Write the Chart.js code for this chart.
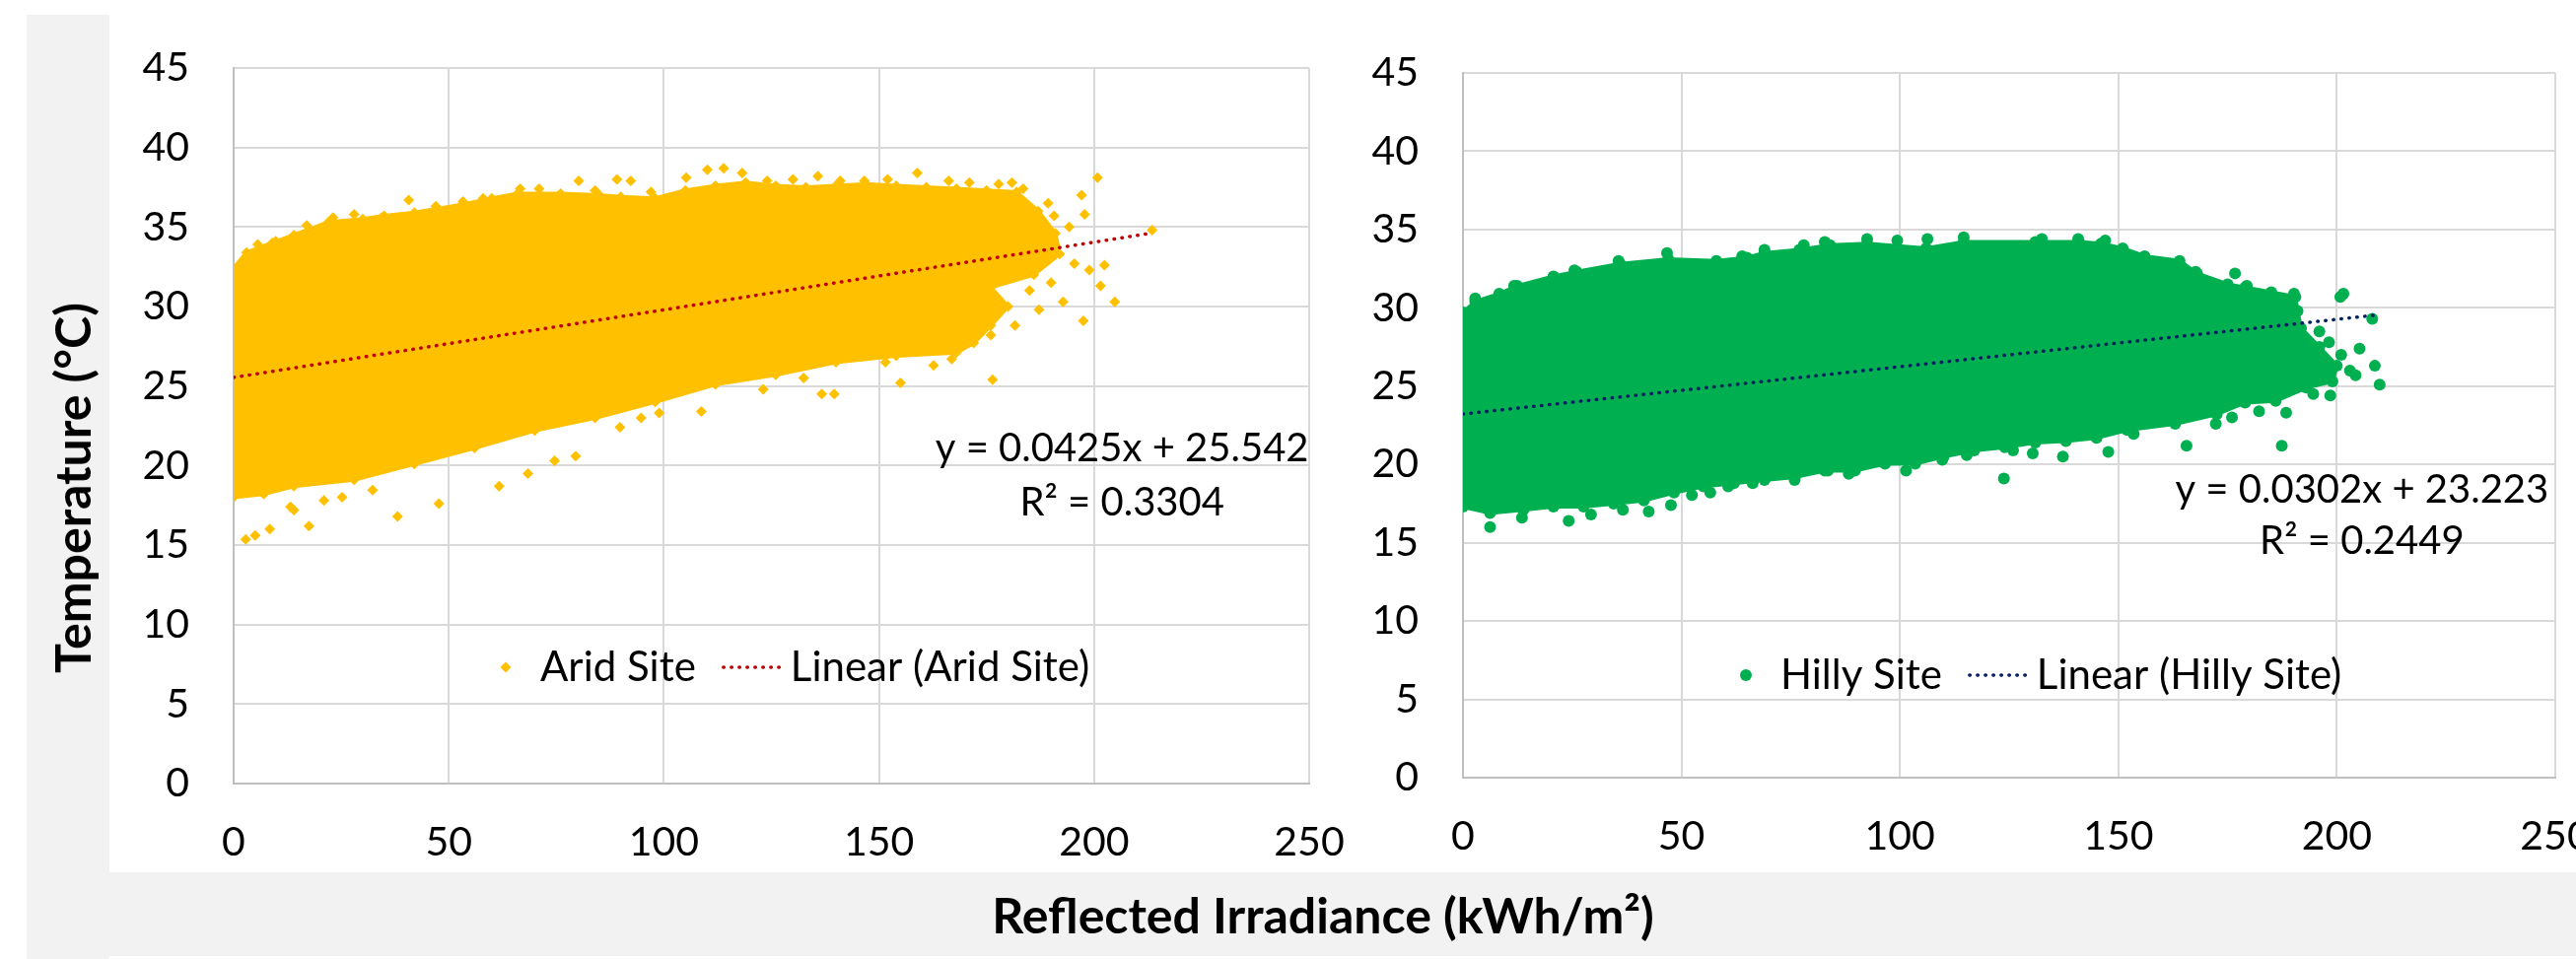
<!DOCTYPE html>
<html>
<head>
<meta charset="utf-8">
<script src="https://cdn.jsdelivr.net/npm/chart.js@4.4.1/dist/chart.umd.min.js"></script>
<style>
  html, body { margin: 0; overflow: hidden; }
  body { width: 2613px; height: 973px; position: relative; background: #fff; font-family: Lato, sans-serif; }
  .band { position: absolute; background: #f2f2f2; }
  canvas { position: absolute; }
  .ttl { position: absolute; font-weight: bold; font-size: 50px; line-height: 1; color: #000; white-space: nowrap; }
</style>
</head>
<body>
<div class="band" style="left:27px;top:15px;width:84px;height:958px"></div>
<div class="band" style="left:111px;top:885px;width:2502px;height:85px"></div>
<canvas id="arid" width="1340" height="870" style="left:27px;top:15px"></canvas>
<canvas id="hilly" width="1300" height="870" style="left:1367px;top:15px"></canvas>
<div class="ttl" style="left:73px;top:495px;transform:translate(-50%,-50%) rotate(-90deg)">Temperature (°C)</div>
<div class="ttl" style="left:1342px;top:928px;transform:translate(-50%,-50%)">Reflected Irradiance (kWh/m²)</div>

<script>
// axis ticks
const xTicks = [0, 50, 100, 150, 200, 250];
const yTicks = [0, 5, 10, 15, 20, 25, 30, 35, 40, 45];

// Arid site: outline of the dense cloud (top edge left->right, bottom edge right->left)
const aridTopX = [0, 3, 9, 14, 22, 30, 35, 42, 53, 60, 66, 76, 85, 90, 98, 105, 112, 119, 126, 133, 140, 147, 154, 161, 168, 175, 182, 187, 191, 192, 186, 176, 180, 176, 172];
const aridTopY = [32.4, 33.4, 34.0, 34.5, 35.3, 35.5, 35.7, 35.9, 36.4, 36.8, 37.1, 37.1, 37.0, 36.9, 36.8, 37.3, 37.6, 37.8, 37.6, 37.5, 37.6, 37.7, 37.6, 37.5, 37.4, 37.3, 37.2, 36.0, 34.6, 33.3, 32.0, 31.2, 30.0, 28.8, 27.7];
const aridLowX = [168, 154, 140, 126, 112, 98, 84, 70, 56, 42, 28, 14, 7, 0];
const aridLowY = [27.1, 26.9, 26.5, 25.7, 25.1, 24.0, 23.0, 22.2, 21.1, 20.1, 19.1, 18.7, 18.2, 18.0];
// Arid site: loose points around the cloud
const aridDotX = [5.6, 9.8, 23.1, 34.4, 40.7, 53.3, 66.6, 75.7, 80.2, 89.1, 92.3, 103.8, 105.2, 110.1, 113.9, 118.2, 135.8, 146.6, 158.9, 166.2, 177.8, 180.9, 183.5, 189.3, 190.7,
  17, 28, 47, 58, 71, 84, 97, 124, 130, 141, 152, 171,
  194.2, 197.1, 197.8, 200.8, 198.9, 202.4, 195.4, 201.5, 204.8, 192.8, 197.5, 187.2, 181.6, 176, 213.5, 190, 185,
  176.4, 170.4, 166.9, 162.7, 159.2, 155.0, 151.5, 139.6, 136.7, 132.5, 123.1, 108.7, 98.9, 94.7, 89.8, 79.5, 74.6, 68.4, 61.7, 47.7, 38.1, 32.3, 25.2, 21.0, 17.5, 14.0, 13.2, 8.4, 2.8, 5];
const aridDotY = [33.9, 34.1, 35.6, 35.6, 36.7, 36.6, 37.4, 36.6, 37.9, 38.0, 37.9, 36.9, 38.1, 38.6, 38.7, 38.4, 38.2, 37.9, 38.4, 37.9, 37.7, 37.8, 37.4, 36.5, 35.7,
  35.1, 35.8, 36.3, 36.8, 37.4, 37.3, 37.2, 37.9, 38.0, 37.9, 38.0, 37.8,
  35.0, 37.0, 35.8, 38.1, 32.3, 32.6, 32.7, 31.3, 30.3, 30.3, 29.1, 29.8, 28.8, 28.2, 34.8, 31.5, 31.0,
  25.4, 28.2, 26.7, 26.3, 27.5, 25.2, 26.5, 24.5, 24.5, 25.5, 24.8, 23.4, 23.3, 23.0, 22.4, 20.6, 20.3, 19.5, 18.7, 17.6, 16.8, 18.45, 18.0, 17.8, 16.2, 17.2, 17.4, 16.0, 15.35, 15.6];
const aridTrendX = [0, 213.5];
const aridTrendY = [25.54, 34.62];
const aridEquation = ['y = 0.0425x + 25.542', 'R² = 0.3304'];

// Hilly site
const hillyTopX = [0, 2.8, 8.3, 12.4, 20.7, 26, 36, 47, 58, 65, 69, 77, 84, 92.5, 106, 114.6, 131, 141, 146, 151, 156, 164, 168, 175, 179, 185, 190.5, 191, 191.8, 196, 200, 199];
const hillyTopY = [29.7, 30.4, 30.9, 31.4, 32.0, 32.3, 32.8, 33.1, 33.0, 33.2, 33.5, 33.7, 34.0, 34.1, 33.8, 34.2, 34.2, 34.2, 34.1, 33.8, 33.3, 33.0, 32.2, 31.5, 31.3, 31.0, 30.7, 29.8, 28.7, 27.5, 26.3, 25.3];
const hillyLowX = [193, 186, 179, 172.5, 163, 152, 145, 138, 131, 124, 117, 110, 103.5, 96.6, 89.7, 82.8, 76, 69, 62, 55, 48.3, 41.4, 34.5, 27.6, 20.7, 13.8, 6.2, 0];
const hillyLowY = [24.9, 24.05, 23.95, 23.2, 22.6, 22.2, 21.7, 21.5, 21.4, 21.1, 20.9, 20.5, 20.05, 20.05, 19.6, 19.6, 19.2, 19.0, 18.8, 18.6, 18.2, 17.7, 17.5, 17.3, 17.3, 17.1, 16.9, 17.3];
const hillyDotX = [2.8, 11.7, 25.5, 35.6, 46.7, 63.9, 69, 78, 82.8, 92.5, 99.4, 106.3, 114.6, 132.5, 140.8, 147, 167.7, 176.7, 179.4, 190.2,
  200.8, 201.5, 208.1, 208.7, 209.8, 205.2, 204.3, 198.2, 198.5, 194.6, 203, 196, 201,
  187.4, 188.4, 182.2, 176, 172.3, 165.6, 153.5, 147.7, 137.3, 130.4, 125.9, 123.8, 115.3, 109.7, 101.4, 88.3, 83.5, 75.9, 66.3, 60.7, 56.6, 52.4, 47.6, 42.5, 36.6, 29.3, 24.2, 13.5, 6.2];
const hillyDotY = [30.6, 31.4, 32.4, 33.0, 33.5, 33.3, 33.7, 34.0, 34.2, 34.4, 34.3, 34.4, 34.5, 34.4, 34.4, 34.3, 32.3, 32.2, 31.4, 30.9,
  30.7, 30.9, 29.3, 26.3, 25.1, 27.4, 25.7, 27.8, 24.4, 24.5, 26.0, 28.5, 27.0,
  21.2, 23.3, 23.4, 23.0, 22.6, 21.2, 21.95, 20.8, 20.5, 20.7, 20.9, 19.1, 20.6, 20.3, 19.6, 19.4, 19.6, 19.0, 18.8, 18.6, 18.2, 18.05, 17.4, 17.0, 17.1, 16.8, 16.4, 16.6, 16.0];
const hillyTrendX = [0, 208.4];
const hillyTrendY = [23.22, 29.52];
const hillyEquation = ['y = 0.0302x + 23.223', 'R² = 0.2449'];

function pts(xs, ys) {
  return xs.map((x, i) => ({ x: x, y: ys[i] }));
}

// legend + trendline equation drawn inside the plot area, like the spreadsheet original
const siteNotes = {
  id: 'siteNotes',
  afterDraw(chart, args, o) {
    const ctx = chart.ctx, a = chart.chartArea;
    const trend = chart.data.datasets[0], dots = chart.data.datasets[1];
    let x = a.left + o.legendX * a.width;
    const y = a.top + o.legendY * a.height;
    ctx.save();
    ctx.font = o.legendFont;
    ctx.textBaseline = 'middle';
    ctx.fillStyle = dots.backgroundColor;
    Chart.helpers.drawPoint(ctx, { pointStyle: dots.pointStyle, radius: dots.pointRadius, borderWidth: 0, rotation: 0 }, x, y);
    x += 35;
    ctx.fillStyle = '#000';
    ctx.textAlign = 'left';
    ctx.fillText(dots.label, x, y);
    x += ctx.measureText(dots.label).width + 28;
    ctx.beginPath();
    ctx.strokeStyle = trend.borderColor;
    ctx.lineWidth = trend.borderWidth;
    ctx.lineCap = 'round';
    ctx.setLineDash(trend.borderDash);
    ctx.moveTo(x, y);
    ctx.lineTo(x + 58, y);
    ctx.stroke();
    ctx.setLineDash([]);
    x += 68;
    ctx.fillText(trend.label, x, y);

    // equation
    ctx.font = o.eqFont;
    ctx.textAlign = 'center';
    const ex = a.left + o.eqX * a.width;
    o.eqLines.forEach((t, i) => {
      ctx.fillText(t, ex, a.top + o.eqY[i] * a.height);
    });
    ctx.restore();
  }
};

function makeChart(id, s) {
  const cloud = pts(s.topX, s.topY).concat(pts(s.lowX, s.lowY));
  return new Chart(document.getElementById(id), {
    type: 'scatter',
    data: {
      datasets: [
        {
          label: s.trendLabel,
          data: pts(s.trendX, s.trendY),
          showLine: true,
          borderColor: s.trendColor,
          borderWidth: 3.5,
          borderDash: [0.5, 7.5],
          borderCapStyle: 'round',
          pointRadius: 0,
          fill: false
        },
        {
          label: s.label,
          data: pts(s.dotX, s.dotY),
          pointStyle: s.marker,
          pointRadius: s.radius,
          backgroundColor: s.color,
          pointBackgroundColor: s.color,
          pointBorderWidth: 0
        },
        {
          label: '',
          data: cloud,
          showLine: true,
          fill: 'shape',
          backgroundColor: s.color,
          borderColor: s.color,
          borderWidth: 4,
          pointStyle: s.marker,
          pointRadius: s.radius,
          pointBackgroundColor: s.color,
          pointBorderWidth: 0
        }
      ]
    },
    options: {
      responsive: false,
      animation: false,
      devicePixelRatio: 1,
      layout: { padding: { top: s.padTop, right: s.padRight, left: 0, bottom: 0 } },
      plugins: {
        legend: { display: false },
        tooltip: { enabled: false },
        siteNotes: s.notes
      },
      scales: {
        x: {
          type: 'linear',
          min: 0,
          max: 250,
          afterBuildTicks: sc => { sc.ticks = xTicks.map(v => ({ value: v })); },
          afterFit: sc => { sc.height = s.xHeight; },
          // invisible tick marks give the label gap without padding the plot area
          grid: { color: '#d9d9d9', lineWidth: 2, drawTicks: true, tickLength: 35, tickColor: 'rgba(0,0,0,0)' },
          border: { color: '#bfbfbf', width: 2 },
          ticks: { color: '#000', font: { size: 41 }, padding: 0, maxRotation: 0, autoSkip: false }
        },
        y: {
          type: 'linear',
          min: 0,
          max: 45,
          afterBuildTicks: sc => { sc.ticks = yTicks.map(v => ({ value: v })); },
          afterFit: sc => { sc.width = s.yWidth; },
          grid: { color: '#d9d9d9', lineWidth: 2, drawTicks: true, tickLength: 45, tickColor: 'rgba(0,0,0,0)' },
          border: { color: '#bfbfbf', width: 2 },
          ticks: { color: '#000', font: { size: 41 }, padding: 0, autoSkip: false }
        }
      }
    },
    plugins: [siteNotes]
  });
}

function drawAll() {
  Chart.defaults.font.family = 'Lato, sans-serif';
  makeChart('arid', {
    label: 'Arid Site', trendLabel: 'Linear (Arid Site)',
    topX: aridTopX, topY: aridTopY, lowX: aridLowX, lowY: aridLowY,
    dotX: aridDotX, dotY: aridDotY, trendX: aridTrendX, trendY: aridTrendY,
    color: '#ffc000', trendColor: '#c00000', marker: 'rectRot', radius: 5.5,
    padTop: 54, padRight: 39, xHeight: 90, yWidth: 210,
    notes: { legendFont: '42px Lato, sans-serif', eqFont: '40px Lato, sans-serif', legendX: 0.253, legendY: 0.8375, eqX: 0.826, eqY: [0.532, 0.607], eqLines: aridEquation }
  });
  makeChart('hilly', {
    label: 'Hilly Site', trendLabel: 'Linear (Hilly Site)',
    topX: hillyTopX, topY: hillyTopY, lowX: hillyLowX, lowY: hillyLowY,
    dotX: hillyDotX, dotY: hillyDotY, trendX: hillyTrendX, trendY: hillyTrendY,
    color: '#00b050', trendColor: '#002060', marker: 'circle', radius: 6,
    padTop: 59, padRight: 75, xHeight: 96, yWidth: 117,
    notes: { legendFont: '42px Lato, sans-serif', eqFont: '40px Lato, sans-serif', legendX: 0.259, legendY: 0.8545, eqX: 0.823, eqY: [0.592, 0.664], eqLines: hillyEquation }
  });
}

Promise.all([
  document.fonts.load('40px Lato'),
  document.fonts.load('bold 50px Lato')
]).then(drawAll, drawAll);
</script>
</body>
</html>
